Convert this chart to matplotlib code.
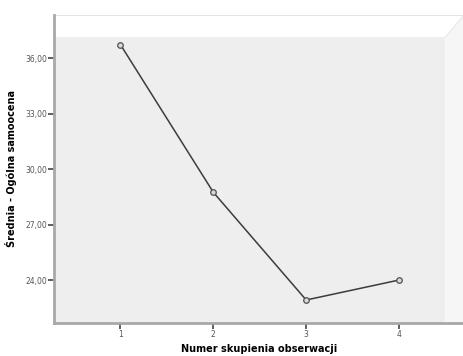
import numpy as np
import matplotlib.pyplot as plt
from matplotlib.patches import Polygon

# data
clusters = [1, 2, 3, 4]
means = [36.74, 28.75, 22.92, 24.00]
yticks = [24, 27, 30, 33, 36]
ytick_labels = ['24,00', '27,00', '30,00', '33,00', '36,00']

fig = plt.figure(figsize=(4.64, 3.56), dpi=100)
ax = fig.add_axes([0.117, 0.0935, 0.883, 0.8645])

x0, x1, xw = 0.287, 4.70, 4.50
y0, y1, yw = 21.69, 38.35, 37.16
ax.set_xlim(x0, x1)
ax.set_ylim(y0, y1)

# SPSS-like frame: back wall, top band and right side band
ax.add_patch(Polygon([(x0, y0), (x0, yw), (xw, yw), (xw, y0)],
                     closed=True, facecolor='#eeeeee', edgecolor='none', zorder=0))
ax.add_patch(Polygon([(x0, yw), (x0, y1), (x1, y1), (xw, yw)],
                     closed=True, facecolor='white', edgecolor='none', zorder=0))
ax.add_patch(Polygon([(xw, y0), (xw, yw), (x1, y1), (x1, y0)],
                     closed=True, facecolor='#f6f6f6', edgecolor='none', zorder=0))
ax.plot([x0, x1], [y1, y1], color='#e4e4e4', lw=0.8, zorder=1, clip_on=False)
ax.plot([xw, x1], [yw, y1], color='#e8e8e8', lw=0.8, zorder=1)

ax.plot(clusters, means, color='#3c3c3c', lw=1.1, marker='o', markersize=4,
        markerfacecolor='#d8d8d8', markeredgecolor='#505050', markeredgewidth=0.9, zorder=3)

for side in ['top', 'right']:
    ax.spines[side].set_visible(False)
for side in ['left', 'bottom']:
    ax.spines[side].set_color('#a8a8a8')
    ax.spines[side].set_linewidth(2.0)

ax.set_xticks(clusters)
ax.set_xticklabels([str(c) for c in clusters])
ax.set_yticks(yticks)
ax.set_yticklabels(ytick_labels)
ax.tick_params(axis='both', direction='out', length=4, width=1.2, color='#444444',
               labelsize=5.5, labelcolor='#555555', pad=1)

ax.set_xlabel('Numer skupienia obserwacji', fontsize=7, fontweight='bold', labelpad=4)
ax.set_ylabel('Średnia - Ogólna samoocena', fontsize=7, fontweight='bold', labelpad=6)

fig.savefig('out.png', dpi=100)
